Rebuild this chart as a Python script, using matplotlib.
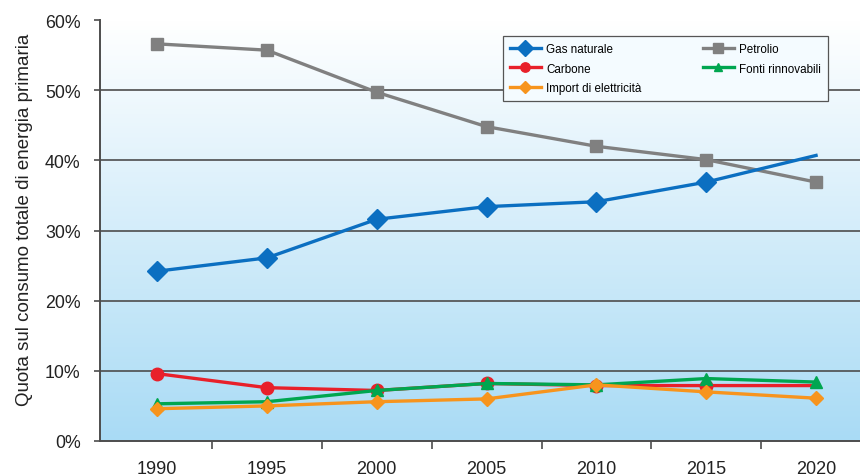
import matplotlib
matplotlib.use('Agg')

import matplotlib.pyplot as plt
import numpy as np
from matplotlib.colors import LinearSegmentedColormap

plt.rcParams['font.family'] = ['Liberation Sans', 'DejaVu Sans']

# ─── dati ───
anni = [1990, 1995, 2000, 2005, 2010, 2015, 2020]
gas_naturale = [24.2, 26.1, 31.6, 33.4, 34.1, 36.9, 40.7]
petrolio = [56.6, 55.7, 49.7, 44.8, 42.0, 40.1, 36.9]
carbone = [9.6, 7.6, 7.2, 8.2, 7.9, 7.9, 7.9]
fonti_rinnovabili = [5.3, 5.6, 7.2, 8.2, 8.0, 8.9, 8.4]
import_elettricita = [4.6, 5.0, 5.6, 6.0, 8.0, 7.0, 6.1]
y_ticks = [0, 10, 20, 30, 40, 50, 60]

fig = plt.figure(figsize=(8.6, 4.77), dpi=100)
ax = fig.add_axes([100 / 860, 35 / 477, 760 / 860, 421 / 477])

x0, x1 = 1987.4, 2022.0
ax.set_xlim(x0, x1)
ax.set_ylim(0, 60)

# sfondo sfumato bianco -> azzurro
cmap = LinearSegmentedColormap.from_list('bg', ['#a9dbf5', '#ffffff'])
grad = np.linspace(0, 1, 256).reshape(-1, 1)
ax.imshow(grad, extent=[x0, x1, 0, 60], origin='lower', aspect='auto',
          cmap=cmap, zorder=0)

for y in y_ticks[1:-1]:
    ax.axhline(y, color='#4d4d4d', linewidth=1.2, zorder=1)

# linee
ax.plot(anni, carbone, color='#e8202a', linewidth=2.4, marker='o',
        markersize=9, markevery=list(range(6)), zorder=3, label='Carbone')
ax.plot(anni, fonti_rinnovabili, color='#00a650', linewidth=2.4, marker='^',
        markersize=8, zorder=4, label='Fonti rinnovabili')
ax.plot(anni, import_elettricita, color='#f7941d', linewidth=2.4, marker='D',
        markersize=7.5, zorder=5, label='Import di elettricità')
ax.plot(anni, petrolio, color='#808080', linewidth=2.4, marker='s',
        markersize=9, zorder=6, label='Petrolio')
ax.plot(anni, gas_naturale, color='#0b6fc1', linewidth=2.4, marker='D',
        markersize=10.5, markevery=list(range(6)), zorder=7,
        label='Gas naturale')

# assi
ax.set_yticks(y_ticks)
ax.set_yticklabels([f"{v}%" for v in y_ticks], fontsize=12.8, color='#222222')
ax.set_xticks(anni)
ax.set_xticklabels([str(a) for a in anni], fontsize=13, color='#222222')
ax.set_xticks([a + 2.5 for a in anni[:-1]], minor=True)
ax.tick_params(axis='x', which='major', length=0, pad=14)
ax.tick_params(axis='x', which='minor', length=6, width=1.2,
               color='#4d4d4d', direction='out')
ax.tick_params(axis='y', length=4, width=1.2, color='#4d4d4d',
               direction='out', pad=10)

for s in ['top', 'right']:
    ax.spines[s].set_visible(False)
for s in ['left', 'bottom']:
    ax.spines[s].set_color('#4d4d4d')
    ax.spines[s].set_linewidth(1.4)

ax.set_ylabel('Quota sul consumo totale di energia primaria',
              fontsize=13.5, color='#222222')
ax.yaxis.set_label_coords(-0.088, 0.527)

# legenda
handles, labels = ax.get_legend_handles_labels()
order = [4, 0, 2, 3, 1]
leg = ax.legend([handles[i] for i in order], [labels[i] for i in order],
                ncol=2, loc='upper left',
                bbox_to_anchor=(0.530, 0.810, 0.428, 0.152), mode='expand',
                borderaxespad=0, fontsize=8.4, frameon=True, fancybox=False,
                handlelength=2.65, handletextpad=0.45, columnspacing=3.85,
                labelspacing=0.65, borderpad=0.6, markerscale=0.75)
leg.get_frame().set_edgecolor('#555555')
leg.get_frame().set_facecolor('#f4fbff')
leg.get_frame().set_alpha(1)
leg.get_frame().set_linewidth(0.9)
leg.set_zorder(10)

fig.savefig('out.png', dpi=100)
